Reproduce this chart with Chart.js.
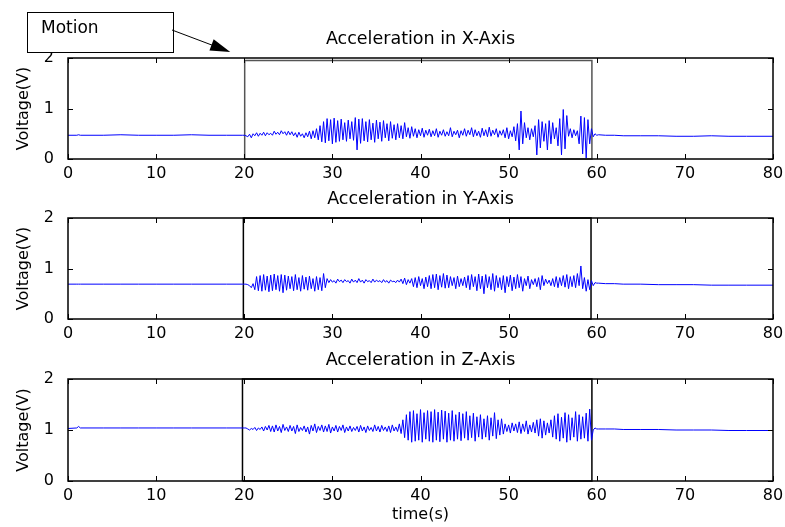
<!DOCTYPE html>
<html>
<head>
<meta charset="utf-8">
<script src="https://cdn.jsdelivr.net/npm/chart.js@4.4.1/dist/chart.umd.min.js"></script>
<style>
  body { margin:0; background:#fff; }
  #wrap { position:relative; width:785px; height:527px; background:#fff; }
  canvas { position:absolute; left:0; }
</style>
</head>
<body>
<div id="wrap">
  <canvas id="cx" width="785" height="190" style="top:0px"></canvas>
  <canvas id="cy" width="785" height="190" style="top:160px"></canvas>
  <canvas id="cz" width="785" height="206" style="top:321px"></canvas>
</div>
<script>
// titles and ticks
var titles = ['Acceleration in X-Axis', 'Acceleration in Y-Axis', 'Acceleration in Z-Axis'];
var xTicks = [0, 10, 20, 30, 40, 50, 60, 70, 80];
var yTicks = [0, 1, 2];

// quiet part before the motion (s)
var preTimes = [0, 1.0, 1.2, 1.4, 4, 6, 8, 10, 12, 14, 16, 18, 19.8];
var preX = [0.47,0.47,0.48,0.47,0.47,0.48,0.47,0.47,0.47,0.48,0.47,0.47,0.47];
var preY = [0.69,0.69,0.69,0.69,0.69,0.69,0.69,0.69,0.69,0.69,0.69,0.69,0.69];
var preZ = [1.03,1.04,1.07,1.04,1.04,1.04,1.04,1.04,1.04,1.04,1.04,1.04,1.04];

// motion part, one sample every 0.2 s from 20 s to 60 s
var motionStart = 20;
var motionStep = 0.2;
var motionX = [
  0.47,0.46,0.44,0.49,0.42,0.50,
  0.46,0.52,0.45,0.51,0.47,0.53,0.46,0.52,0.48,0.51,
  0.47,0.55,0.49,0.53,0.48,0.56,0.50,0.54,0.47,0.55,
  0.48,0.54,0.46,0.52,0.43,0.53,0.45,0.50,0.42,0.52,
  0.44,0.55,0.40,0.56,0.42,0.60,0.38,0.66,0.34,0.74,
  0.32,0.80,0.36,0.78,0.30,0.81,0.33,0.76,0.35,0.79,
  0.38,0.72,0.35,0.77,0.40,0.74,0.37,0.82,0.18,0.79,
  0.31,0.80,0.36,0.74,0.34,0.78,0.38,0.71,0.33,0.77,
  0.40,0.73,0.35,0.76,0.42,0.70,0.36,0.74,0.41,0.68,
  0.38,0.70,0.42,0.66,0.40,0.72,0.44,0.62,0.41,0.64,
  0.45,0.60,0.42,0.58,0.46,0.61,0.43,0.57,0.47,0.59,
  0.44,0.56,0.46,0.60,0.43,0.55,0.47,0.58,0.45,0.54,
  0.46,0.62,0.44,0.55,0.48,0.57,0.42,0.56,0.47,0.60,
  0.45,0.57,0.48,0.62,0.44,0.58,0.46,0.55,0.43,0.61,
  0.46,0.58,0.44,0.63,0.45,0.57,0.48,0.60,0.43,0.56,
  0.47,0.58,0.42,0.62,0.40,0.56,0.44,0.64,0.36,0.70,
  0.18,0.95,0.30,0.72,0.42,0.62,0.38,0.60,0.44,0.66,
  0.08,0.78,0.22,0.74,0.35,0.70,0.18,0.76,0.30,0.72,
  0.40,0.62,0.26,0.80,0.08,0.98,0.20,0.86,0.45,0.60,
  0.42,0.58,0.46,0.56,0.30,0.85,0.10,0.82,0.02,0.78,
  0.30,0.60,0.44,0.50,0.47
];
var motionY = [
  0.69,0.69,0.68,0.66,0.62,0.70,
  0.58,0.84,0.56,0.86,0.55,0.88,0.57,0.85,0.54,0.87,
  0.56,0.89,0.58,0.86,0.55,0.88,0.52,0.87,0.57,0.85,
  0.60,0.84,0.56,0.88,0.58,0.82,0.55,0.86,0.59,0.83,
  0.57,0.85,0.60,0.80,0.55,0.84,0.58,0.82,0.56,0.90,
  0.62,0.80,0.72,0.78,0.73,0.76,0.71,0.79,0.74,0.77,
  0.72,0.78,0.74,0.76,0.71,0.79,0.73,0.77,0.72,0.80,
  0.73,0.77,0.71,0.78,0.74,0.76,0.72,0.79,0.73,0.77,
  0.74,0.76,0.72,0.78,0.73,0.76,0.71,0.77,0.74,0.75,
  0.72,0.77,0.73,0.79,0.70,0.81,0.68,0.78,0.71,0.80,
  0.64,0.82,0.62,0.84,0.66,0.80,0.60,0.83,0.64,0.86,
  0.60,0.88,0.62,0.89,0.58,0.86,0.63,0.90,0.61,0.87,
  0.62,0.84,0.66,0.82,0.60,0.85,0.64,0.80,0.66,0.83,
  0.62,0.86,0.58,0.88,0.64,0.84,0.56,0.89,0.60,0.85,
  0.50,0.88,0.62,0.84,0.58,0.90,0.55,0.86,0.62,0.82,
  0.58,0.86,0.52,0.84,0.64,0.87,0.56,0.83,0.60,0.88,
  0.62,0.84,0.55,0.80,0.66,0.85,0.60,0.78,0.68,0.80,
  0.64,0.82,0.58,0.86,0.66,0.79,0.70,0.77,0.66,0.80,
  0.64,0.84,0.62,0.82,0.66,0.86,0.63,0.88,0.60,0.84,
  0.64,0.86,0.62,0.90,0.66,1.05,0.60,0.82,0.55,0.78,
  0.58,0.76,0.66,0.72,0.71
];
var motionZ = [
  1.04,1.04,1.02,1.00,1.03,1.01,
  1.05,0.99,1.04,1.01,1.06,0.98,1.07,1.00,1.09,0.97,
  1.08,0.96,1.10,0.98,1.07,0.95,1.11,0.99,1.06,0.97,
  1.09,0.98,1.07,0.93,1.10,0.97,1.05,0.99,1.08,0.96,
  1.06,0.92,1.09,0.98,1.12,0.95,1.07,0.99,1.10,0.96,
  1.08,0.97,1.11,0.94,1.06,0.98,1.09,0.96,1.07,0.99,
  1.10,0.95,1.06,0.98,1.08,0.97,1.05,0.99,1.07,0.96,
  1.09,0.98,1.06,0.95,1.08,0.99,1.05,0.97,1.10,0.98,
  1.07,0.96,1.09,0.99,1.06,0.97,1.08,0.95,1.10,0.98,
  1.06,0.97,1.12,0.93,1.20,0.85,1.30,0.80,1.36,0.76,
  1.38,0.78,1.32,0.80,1.40,0.76,1.34,0.82,1.38,0.78,
  1.36,0.76,1.40,0.80,1.35,0.77,1.39,0.82,1.37,0.76,
  1.33,0.80,1.38,0.78,1.30,0.82,1.35,0.79,1.32,0.84,
  1.36,0.80,1.28,0.85,1.33,0.78,1.26,0.86,1.30,0.82,
  1.22,0.86,1.28,0.80,1.24,0.88,1.34,0.83,1.20,0.90,
  1.22,0.92,1.12,0.97,1.10,0.94,1.14,0.98,1.12,0.95,
  1.16,0.93,1.12,0.97,1.18,0.92,1.10,0.96,1.15,0.94,
  1.20,0.88,1.22,0.84,1.18,0.90,1.14,0.94,1.20,0.86,
  1.28,0.82,1.32,0.78,1.25,0.84,1.34,0.76,1.30,0.80,
  1.24,0.86,1.36,0.78,1.30,0.82,1.26,0.84,1.33,0.78,
  1.41,0.80,1.00,1.04,1.02
];

// quiet part after the motion
var postTimes = [60.2, 61, 62, 63, 65, 67, 69, 71, 73, 75, 77, 80];
var postX = [0.48,0.47,0.47,0.46,0.46,0.46,0.45,0.45,0.46,0.45,0.45,0.45];
var postY = [0.71,0.70,0.70,0.69,0.69,0.68,0.68,0.68,0.67,0.67,0.67,0.67];
var postZ = [1.02,1.02,1.02,1.01,1.01,1.01,1.00,1.00,1.00,0.99,0.99,0.99];

// the "motion" frame drawn in each plot
var boxX = [[20.05, 20.05, 59.45, 59.45, 20.05], [19.9, 19.9, 59.35, 59.35, 19.9], [19.8, 19.8, 59.45, 59.45, 19.8]];
var boxY = [[0, 1.95, 1.95, 0, 0], [0, 2, 2, 0, 0], [0, 2, 2, 0, 0]];
var boxColor = ['#555555', '#000000', '#000000'];

var FONT = 'DejaVu Sans';

function buildSeries(pre, motion, post) {
  var pts = [];
  for (var i = 0; i < preTimes.length; i++) pts.push({x: preTimes[i], y: pre[i]});
  for (var j = 0; j < motion.length; j++) pts.push({x: motionStart + j * motionStep, y: motion[j]});
  for (var k = 0; k < postTimes.length; k++) pts.push({x: postTimes[k], y: post[k]});
  return pts;
}

function buildBox(n) {
  var pts = [];
  for (var i = 0; i < boxX[n].length; i++) pts.push({x: boxX[n][i], y: boxY[n][i]});
  return pts;
}

// matlab style frame with inward ticks, title centred over the axes
var frameTicks = {
  id: 'frameTicks',
  afterDraw: function(chart, args, opts) {
    var ctx = chart.ctx, a = chart.chartArea;
    var xs = chart.scales.x, ys = chart.scales.y;
    ctx.save();
    ctx.strokeStyle = '#000';
    ctx.lineWidth = 1;
    ctx.beginPath();
    xTicks.forEach(function(v) {
      var px = Math.round(xs.getPixelForValue(v)) + 0.5;
      ctx.moveTo(px, a.bottom); ctx.lineTo(px, a.bottom - 5);
      ctx.moveTo(px, a.top); ctx.lineTo(px, a.top + 5);
    });
    yTicks.forEach(function(v) {
      var py = Math.round(ys.getPixelForValue(v)) + 0.5;
      ctx.moveTo(a.left, py); ctx.lineTo(a.left + 5, py);
      ctx.moveTo(a.right, py); ctx.lineTo(a.right - 5, py);
    });
    ctx.stroke();
    ctx.lineWidth = 1.5;
    ctx.strokeRect(a.left, a.top, a.right - a.left, a.bottom - a.top);
    ctx.fillStyle = '#000';
    ctx.font = '17.5px "' + FONT + '"';
    ctx.textAlign = 'center';
    ctx.textBaseline = 'middle';
    ctx.fillText(opts.text, (a.left + a.right) / 2, a.top - 19);
    ctx.restore();
  }
};

// the "Motion" label with its arrow (first plot only)
var motionNote = {
  id: 'motionNote',
  afterDraw: function(chart) {
    var ctx = chart.ctx, a = chart.chartArea;
    var tipX = chart.scales.x.getPixelForValue(20) - 14, tipY = a.top - 6;
    ctx.save();
    ctx.fillStyle = '#fff';
    ctx.strokeStyle = '#000';
    ctx.lineWidth = 1;
    ctx.fillRect(27.5, 12.5, 146, 40);
    ctx.strokeRect(27.5, 12.5, 146, 40);
    ctx.fillStyle = '#000';
    ctx.font = '17px "' + FONT + '"';
    ctx.textBaseline = 'middle';
    ctx.fillText('Motion', 41, 29);
    var sx = 172, sy = 30;
    var dx = tipX - sx, dy = tipY - sy, len = Math.sqrt(dx * dx + dy * dy);
    var ux = dx / len, uy = dy / len;
    ctx.beginPath(); ctx.moveTo(sx, sy); ctx.lineTo(tipX - ux * 10, tipY - uy * 10); ctx.stroke();
    var bx = tipX - ux * 20, by = tipY - uy * 20;
    ctx.beginPath();
    ctx.moveTo(tipX, tipY);
    ctx.lineTo(bx - uy * 6, by + ux * 6);
    ctx.lineTo(bx + uy * 6, by - ux * 6);
    ctx.closePath();
    ctx.fill();
    ctx.restore();
  }
};

function makeChart(id, n, pre, motion, post, last) {
  var plugins = [frameTicks];
  if (n === 0) plugins.push(motionNote);
  return new Chart(document.getElementById(id), {
    type: 'line',
    data: {
      datasets: [
        {
          data: buildSeries(pre, motion, post),
          borderColor: '#0000ff',
          borderWidth: 1,
          pointRadius: 0,
          tension: 0,
          fill: false
        },
        {
          data: buildBox(n),
          borderColor: boxColor[n],
          borderWidth: 1.5,
          pointRadius: 0,
          tension: 0,
          fill: false,
          clip: 3
        }
      ]
    },
    options: {
      responsive: false,
      animation: false,
      events: [],
      layout: { padding: { left: 0, right: 12, top: 58, bottom: 0 } },
      plugins: {
        legend: { display: false },
        tooltip: { enabled: false },
        title: { display: false },
        frameTicks: { text: titles[n] }
      },
      scales: {
        x: {
          type: 'linear',
          min: 0, max: 80,
          grid: { display: false },
          border: { display: false },
          afterBuildTicks: function(s) { s.ticks = xTicks.map(function(v) { return {value: v}; }); },
          afterFit: function(s) { s.height = last ? 46 : 31; },
          ticks: { color: '#000', padding: -3, maxRotation: 0, font: { family: FONT, size: 16 } },
          title: {
            display: last,
            text: 'time(s)',
            color: '#000',
            font: { family: FONT, size: 16 },
            padding: { top: 0, bottom: 3 }
          }
        },
        y: {
          min: 0, max: 2,
          grid: { display: false },
          border: { display: false },
          afterBuildTicks: function(s) { s.ticks = yTicks.map(function(v) { return {value: v}; }); },
          afterFit: function(s) { s.width = 68; },
          ticks: { color: '#000', padding: 6, font: { family: FONT, size: 16 } },
          title: {
            display: true,
            text: 'Voltage(V)',
            color: '#000',
            font: { family: FONT, size: 16 },
            padding: { top: 14, bottom: 0 }
          }
        }
      }
    },
    plugins: plugins
  });
}

makeChart('cx', 0, preX, motionX, postX, false);
makeChart('cy', 1, preY, motionY, postY, false);
makeChart('cz', 2, preZ, motionZ, postZ, true);
</script>
</body>
</html>
